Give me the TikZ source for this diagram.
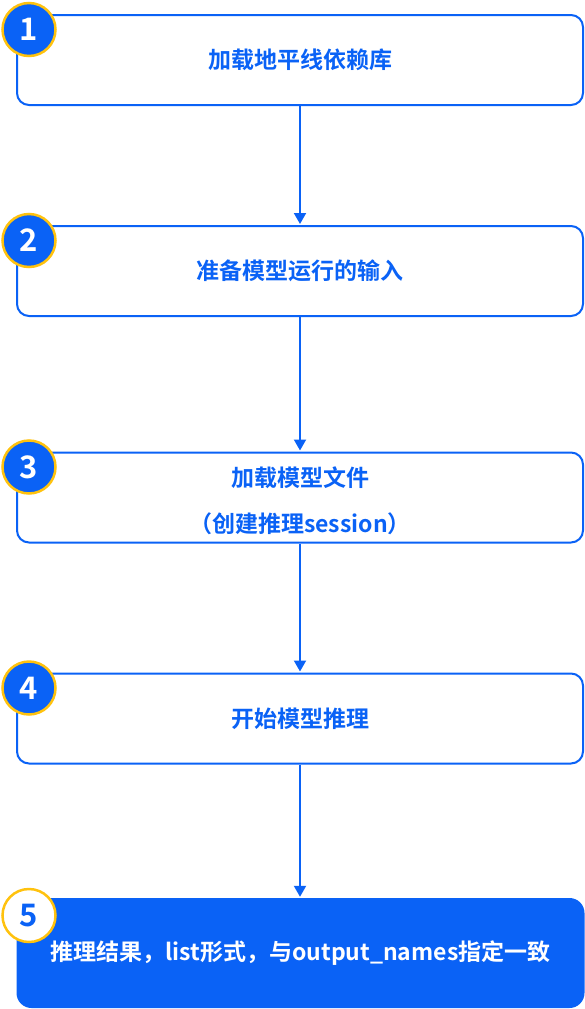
\documentclass[tikz,border=0pt]{standalone}
\usepackage{fontspec}
\newfontfamily\cjk{Noto Sans CJK SC Bold}
\usetikzlibrary{arrows.meta}
\definecolor{mblue}{HTML}{0A62F6}
\definecolor{myellow}{HTML}{FFC20E}
\tikzset{
  stepbox/.style={draw=mblue, line width=2pt, rounded corners=12pt, fill=white,
    minimum width=566pt, minimum height=90pt, inner sep=0pt, text=mblue,
    font=\cjk\fontsize{23}{46}\selectfont, align=center},
  lastbox/.style={fill=mblue, rounded corners=15pt, minimum width=568pt,
    minimum height=110pt, inner sep=0pt, text=white, font=\cjk\fontsize{23}{28}\selectfont},
  badge/.style={circle, draw=myellow, line width=2.5pt, fill=mblue, text=white,
    minimum size=53pt, inner sep=0pt, font=\cjk\fontsize{31}{31}\selectfont},
  badgew/.style={badge, fill=white, text=mblue},
  flow/.style={draw=mblue, line width=2pt, -{Triangle[length=11pt,width=12pt]}, shorten >=1pt}
}
\begin{document}
\begin{tikzpicture}[x=1pt,y=-1pt]
\useasboundingbox (0,0) rectangle (585,1009);
\node[stepbox] (b1) at (300,60) {加载地平线依赖库};
\node[stepbox] (b2) at (300,271) {准备模型运行的输入};
\node[stepbox] (b3) at (300,497.5) {\rule{0pt}{27pt}加载模型文件\\（创建推理session）};
\node[stepbox] (b4) at (300,718.5) {开始模型推理};
\node[lastbox] (b5) at (300.5,953) {推理结果，list形式，与output\_names指定一致};
\node[badge] (c1) at (29,29.5) {1};
\node[badge] (c2) at (29,240.5) {2};
\node[badge] (c3) at (29,467) {3};
\node[badge] (c4) at (29,688) {4};
\node[badgew] (c5) at (29,915.5) {5};
\draw[flow] (b1.south -| 300,0) -- (b2.north -| 300,0);
\draw[flow] (b2.south -| 300,0) -- (b3.north -| 300,0);
\draw[flow] (b3.south -| 300,0) -- (b4.north -| 300,0);
\draw[flow] (b4.south -| 300,0) -- (b5.north -| 300,0);
\end{tikzpicture}
\end{document}
